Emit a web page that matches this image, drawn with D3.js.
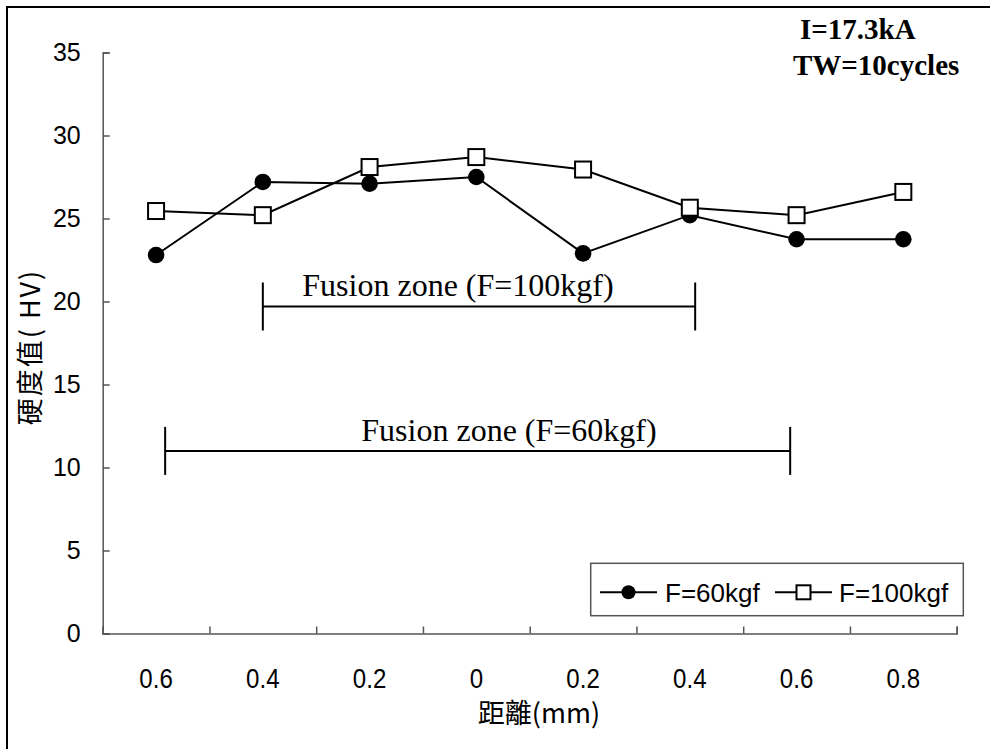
<!DOCTYPE html>
<html>
<head>
<meta charset="utf-8">
<script src="https://cdn.jsdelivr.net/npm/d3@7"></script>
<style>
  body { margin: 0; background: #fff; }
  svg { display: block; }
</style>
</head>
<body>
<div id="chart"></div>
<script>
// data (distance from weld centre in mm, left side negative)
const positions = [-0.6, -0.4, -0.2, 0, 0.2, 0.4, 0.6, 0.8];
const hv60 = [22.8, 27.2, 27.1, 27.5, 22.9, 25.2, 23.75, 23.75];
const hv100 = [25.45, 25.2, 28.1, 28.7, 27.95, 25.65, 25.2, 26.6];
const seriesNames = ["F=60kgf", "F=100kgf"];
const yTicks = [0, 5, 10, 15, 20, 25, 30, 35];
// fusion zone brackets: [from mm, to mm, hardness level]
const zones = [
  {label: "Fusion zone (F=100kgf)", from: -0.40, to: 0.41, level: 19.7},
  {label: "Fusion zone (F=60kgf)", from: -0.583, to: 0.588, level: 11.0}
];

const width = 990, height = 749;

const svg = d3.select("#chart").append("svg")
  .attr("width", width)
  .attr("height", height);

// outer frame
svg.append("rect")
  .attr("x", 7).attr("y", 7)
  .attr("width", 1000).attr("height", 800)
  .attr("fill", "none").attr("stroke", "#000").attr("stroke-width", 2);

// scales
const x = d3.scaleLinear().domain([-0.7, 0.9]).range([102.7, 956.7]);
const y = d3.scaleLinear().domain([0, 35]).range([633.5, 52.5]);

// y axis
const yAxis = svg.append("g")
  .attr("transform", `translate(${x(-0.7)},0)`)
  .call(d3.axisLeft(y).tickValues(yTicks).tickSize(-7).tickPadding(22));
yAxis.selectAll("text")
  .attr("font-family", "'Liberation Sans', Arial, sans-serif")
  .attr("font-size", 25).attr("fill", "#000");

// x axis, ticks between categories
const boundaries = d3.range(9).map(i => -0.7 + i * 0.2);
svg.append("g")
  .attr("transform", `translate(0,${y(0)})`)
  .call(d3.axisBottom(x).tickValues(boundaries).tickSize(-7).tickFormat(""));

svg.selectAll(".domain, .tick line")
  .attr("stroke", "#555").attr("stroke-width", 1.5);

// category labels (slightly condensed like the original)
svg.append("g").selectAll("text")
  .data(positions)
  .join("text")
  .attr("transform", d => `translate(${x(d)},688) scale(0.86,1)`)
  .attr("text-anchor", "middle")
  .attr("font-family", "'Liberation Sans', Arial, sans-serif")
  .attr("font-size", 28)
  .text(d => Math.abs(d) === 0 ? "0" : Math.abs(d).toFixed(1));

// axis titles
svg.append("text")
  .attr("x", 539).attr("y", 723)
  .attr("text-anchor", "middle")
  .attr("font-family", "'Noto Sans CJK TC', sans-serif")
  .attr("font-size", 27)
  .text("距離(mm)");

svg.append("text")
  .attr("transform", "translate(40,347) rotate(-90)")
  .attr("text-anchor", "middle")
  .attr("font-family", "'Noto Sans CJK TC', sans-serif")
  .attr("font-size", 27)
  .attr("letter-spacing", 2)
  .text("硬度值( HV)");

// fusion zone brackets
const zg = svg.append("g").selectAll("g").data(zones).join("g");
zg.append("line")
  .attr("x1", d => x(d.from)).attr("x2", d => x(d.to))
  .attr("y1", d => y(d.level)).attr("y2", d => y(d.level))
  .attr("stroke", "#000").attr("stroke-width", 2);
zg.selectAll(".end")
  .data(d => [d.from, d.to].map(v => ({v, level: d.level})))
  .join("line")
  .attr("class", "end")
  .attr("x1", d => x(d.v)).attr("x2", d => x(d.v))
  .attr("y1", d => y(d.level) - 24).attr("y2", d => y(d.level) + 24)
  .attr("stroke", "#000").attr("stroke-width", 2);
zg.append("text")
  .attr("x", (d, i) => i === 0 ? 458 : 509)
  .attr("y", d => y(d.level) - 10)
  .attr("text-anchor", "middle")
  .attr("font-family", "'Liberation Serif', 'Times New Roman', serif")
  .attr("font-size", 32)
  .text(d => d.label);

// series lines
const line = d3.line().x(d => x(d[0])).y(d => y(d[1]));
const s60 = positions.map((p, i) => [p, hv60[i]]);
const s100 = positions.map((p, i) => [p, hv100[i]]);

svg.append("path").datum(s60).attr("d", line)
  .attr("fill", "none").attr("stroke", "#000").attr("stroke-width", 2);
svg.append("path").datum(s100).attr("d", line)
  .attr("fill", "none").attr("stroke", "#000").attr("stroke-width", 2);

svg.append("g").selectAll("circle")
  .data(s60).join("circle")
  .attr("cx", d => x(d[0])).attr("cy", d => y(d[1]))
  .attr("r", 8.3).attr("fill", "#000");

svg.append("g").selectAll("rect")
  .data(s100).join("rect")
  .attr("x", d => x(d[0]) - 8).attr("y", d => y(d[1]) - 8)
  .attr("width", 16).attr("height", 16)
  .attr("fill", "#fff").attr("stroke", "#000").attr("stroke-width", 2);

// annotation
const note = svg.append("g")
  .attr("font-family", "'Liberation Serif', 'Times New Roman', serif")
  .attr("font-weight", "bold")
  .attr("font-size", 29);
note.append("text").attr("x", 800).attr("y", 39).text("I=17.3kA");
note.append("text").attr("x", 793).attr("y", 75).text("TW=10cycles");

// legend
const legend = svg.append("g");
legend.append("rect")
  .attr("x", 590.7).attr("y", 563.3)
  .attr("width", 372.6).attr("height", 52.4)
  .attr("fill", "#fff").attr("stroke", "#555").attr("stroke-width", 1.5);
const items = [
  {name: seriesNames[0], x0: 600, tx: 665},
  {name: seriesNames[1], x0: 775, tx: 839}
];
items.forEach((it, i) => {
  legend.append("line")
    .attr("x1", it.x0).attr("x2", it.x0 + 57)
    .attr("y1", 592.3).attr("y2", 592.3)
    .attr("stroke", "#000").attr("stroke-width", 2);
  if (i === 0) {
    legend.append("circle").attr("cx", it.x0 + 28.5).attr("cy", 592.3)
      .attr("r", 7).attr("fill", "#000");
  } else {
    legend.append("rect").attr("x", it.x0 + 28.5 - 7).attr("y", 592.3 - 7)
      .attr("width", 14).attr("height", 14)
      .attr("fill", "#fff").attr("stroke", "#000").attr("stroke-width", 2);
  }
  legend.append("text")
    .attr("x", it.tx).attr("y", 602)
    .attr("font-family", "'Liberation Sans', Arial, sans-serif")
    .attr("font-size", 26)
    .text(it.name);
});
</script>
</body>
</html>
